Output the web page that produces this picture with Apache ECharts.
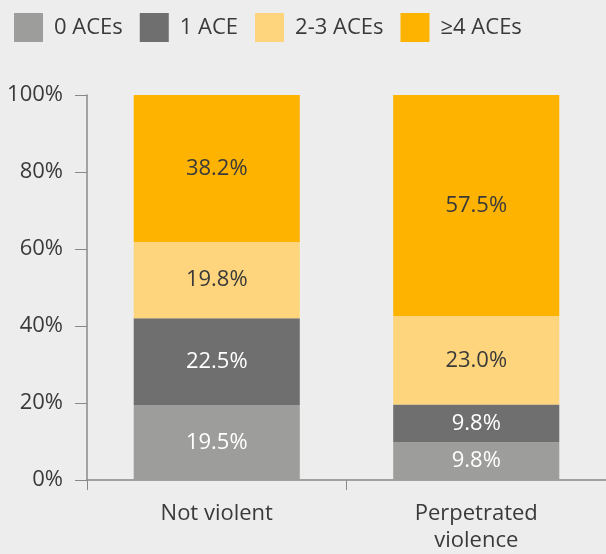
<!DOCTYPE html>
<html>
<head>
<meta charset="utf-8">
<script src="https://cdn.jsdelivr.net/npm/echarts@6/dist/echarts.min.js"></script>
<style>
  html, body { margin: 0; padding: 0; background: #ededed; }
  #chart { width: 606px; height: 554px; }
</style>
</head>
<body>
<div id="chart"></div>
<script>
// data
const categories = ['Not violent', 'Perpetrated\nviolence']
const seriesNames = ['0 ACEs', '1 ACE', '2-3 ACEs', '≥4 ACEs']
const aces0 = [19.5, 9.8]
const aces1 = [22.5, 9.8]
const aces23 = [19.8, 23.0]
const aces4 = [38.2, 57.5]
const yTicks = [0, 20, 40, 60, 80, 100]

const colors = ['#9d9d9b', '#6f6f6f', '#fed47c', '#fdb300']
const labelColors = ['#ffffff', '#ffffff', '#3a3a3a', '#3a3a3a']
const font = '"Open Sans", "Noto Sans", sans-serif'

const chart = echarts.init(document.getElementById('chart'))

const makeSeries = (name, data, i) => ({
  name,
  type: 'bar',
  stack: 'total',
  barWidth: '64%',
  data,
  itemStyle: { color: colors[i] },
  label: {
    show: true,
    position: 'inside',
    formatter: p => p.value.toFixed(1) + '%',
    color: labelColors[i],
    fontSize: 22,
    fontFamily: font
  }
})

chart.setOption({
  backgroundColor: '#ededed',
  animation: false,
  legend: {
    left: 9,
    top: 8,
    itemWidth: 29,
    itemHeight: 29,
    itemGap: 17,
    icon: 'rect',
    textStyle: { fontSize: 22, color: '#3a3a3a', fontFamily: font, padding: [0, 0, 0, 6] },
    data: seriesNames
  },
  grid: { left: 87, right: 0, top: 95, bottom: 72, containLabel: false },
  xAxis: {
    type: 'category',
    data: categories,
    axisLine: { lineStyle: { color: '#888', width: 1.5 } },
    axisTick: { show: true, length: 10, lineStyle: { color: '#888' } },
    axisLabel: { fontSize: 22, color: '#3a3a3a', fontFamily: font, margin: 20, lineHeight: 27 }
  },
  yAxis: {
    type: 'value',
    min: yTicks[0],
    max: yTicks[yTicks.length - 1],
    interval: 20,
    axisLine: { show: true, lineStyle: { color: '#888', width: 1.5 } },
    axisTick: { show: true, length: 12, lineStyle: { color: '#888' } },
    splitLine: { show: false },
    axisLabel: { fontSize: 22, color: '#3a3a3a', fontFamily: font, margin: 24, formatter: '{value}%' }
  },
  series: [
    makeSeries(seriesNames[0], aces0, 0),
    makeSeries(seriesNames[1], aces1, 1),
    makeSeries(seriesNames[2], aces23, 2),
    makeSeries(seriesNames[3], aces4, 3)
  ]
})
</script>
</body>
</html>
